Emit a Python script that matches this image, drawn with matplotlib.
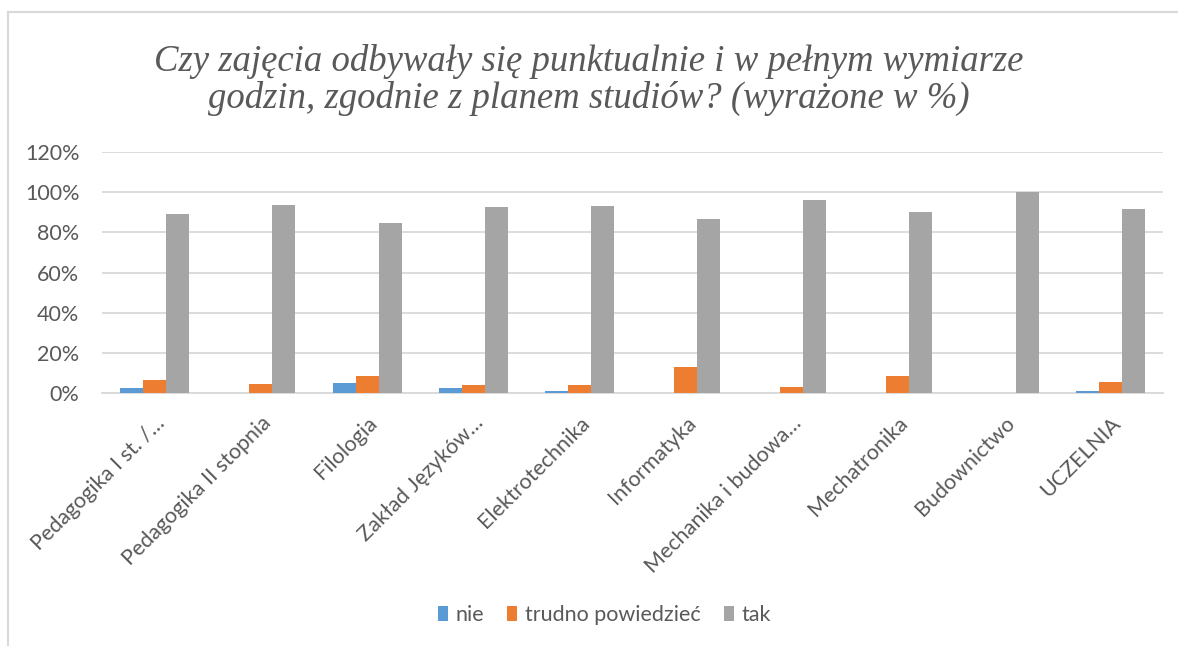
import matplotlib.pyplot as plt
import numpy as np
from matplotlib.lines import Line2D

categories = ['Pedagogika I st. /…', 'Pedagogika II stopnia', 'Filologia',
              'Zakład Języków…', 'Elektrotechnika', 'Informatyka',
              'Mechanika i budowa…', 'Mechatronika', 'Budownictwo', 'UCZELNIA']
nie = [2.6, 0, 5.4, 2.6, 1.2, 0, 0, 0, 0, 1.2]
trudno = [6.6, 4.7, 8.7, 4.0, 4.0, 13.2, 3.3, 8.7, 0, 5.9]
tak = [89.3, 93.7, 84.8, 92.4, 93.1, 86.6, 96.2, 89.9, 100, 91.7]

series = ['nie', 'trudno powiedzieć', 'tak']
colors = ['#5B9BD5', '#ED7D31', '#A5A5A5']
text_color = '#595959'
font = 'Lato'

fig = plt.figure(figsize=(11.78, 6.46), dpi=100)
ax = fig.add_axes([0.0863, 0.3909, 0.9012, 0.3743])

x = np.arange(len(categories))
w = 0.217
for i, (vals, name, c) in enumerate(zip([nie, trudno, tak], series, colors)):
    ax.bar(x + (i - 1) * w, np.array(vals) / 100, width=w, color=c, label=name,
           zorder=3)

ax.set_xlim(-0.5, len(categories) - 0.5)
ax.set_ylim(0, 1.2)
yt = np.arange(0, 1.21, 0.2)
ax.set_yticks(yt)
ax.set_yticklabels([f'{int(round(v * 100))}%' for v in yt],
                   fontsize=15.5, color=text_color, family=font)
ax.set_xticks(x)
ax.set_xticklabels(categories, rotation=45, ha='right', rotation_mode='anchor',
                   fontsize=15.5, color=text_color, family=font)
ax.tick_params(axis='both', length=0)
ax.tick_params(axis='y', pad=16)
ax.tick_params(axis='x', pad=14)
ax.grid(axis='y', color='#D9D9D9', linewidth=1.3, zorder=0)
for s in ['top', 'right', 'left']:
    ax.spines[s].set_visible(False)
ax.spines['bottom'].set_color('#D9D9D9')
ax.spines['bottom'].set_linewidth(1.3)

fig.text(0.5, 0.876, 'Czy zajęcia odbywały się punktualnie i w pełnym wymiarze\n'
         'godzin, zgodnie z planem studiów? (wyrażone w %)',
         ha='center', va='center', fontsize=26.5, style='italic',
         family='Liberation Serif', color=text_color, linespacing=1.05)

ax.legend(loc='center', bbox_to_anchor=(0.513, 0.048), bbox_transform=fig.transFigure,
          ncol=3, frameon=False, handlelength=0.45, handleheight=0.75,
          handletextpad=0.35, columnspacing=1.1,
          prop={'family': font, 'size': 15.5})
for t in ax.get_legend().get_texts():
    t.set_color(text_color)

fig.add_artist(Line2D([8 / 1178, 8 / 1178], [0, 1 - 12 / 646], color='#D9D9D9',
                      linewidth=1.5))
fig.add_artist(Line2D([8 / 1178, 1], [1 - 12 / 646, 1 - 12 / 646], color='#D9D9D9',
                      linewidth=1.5))

fig.savefig('out.png', dpi=100)
